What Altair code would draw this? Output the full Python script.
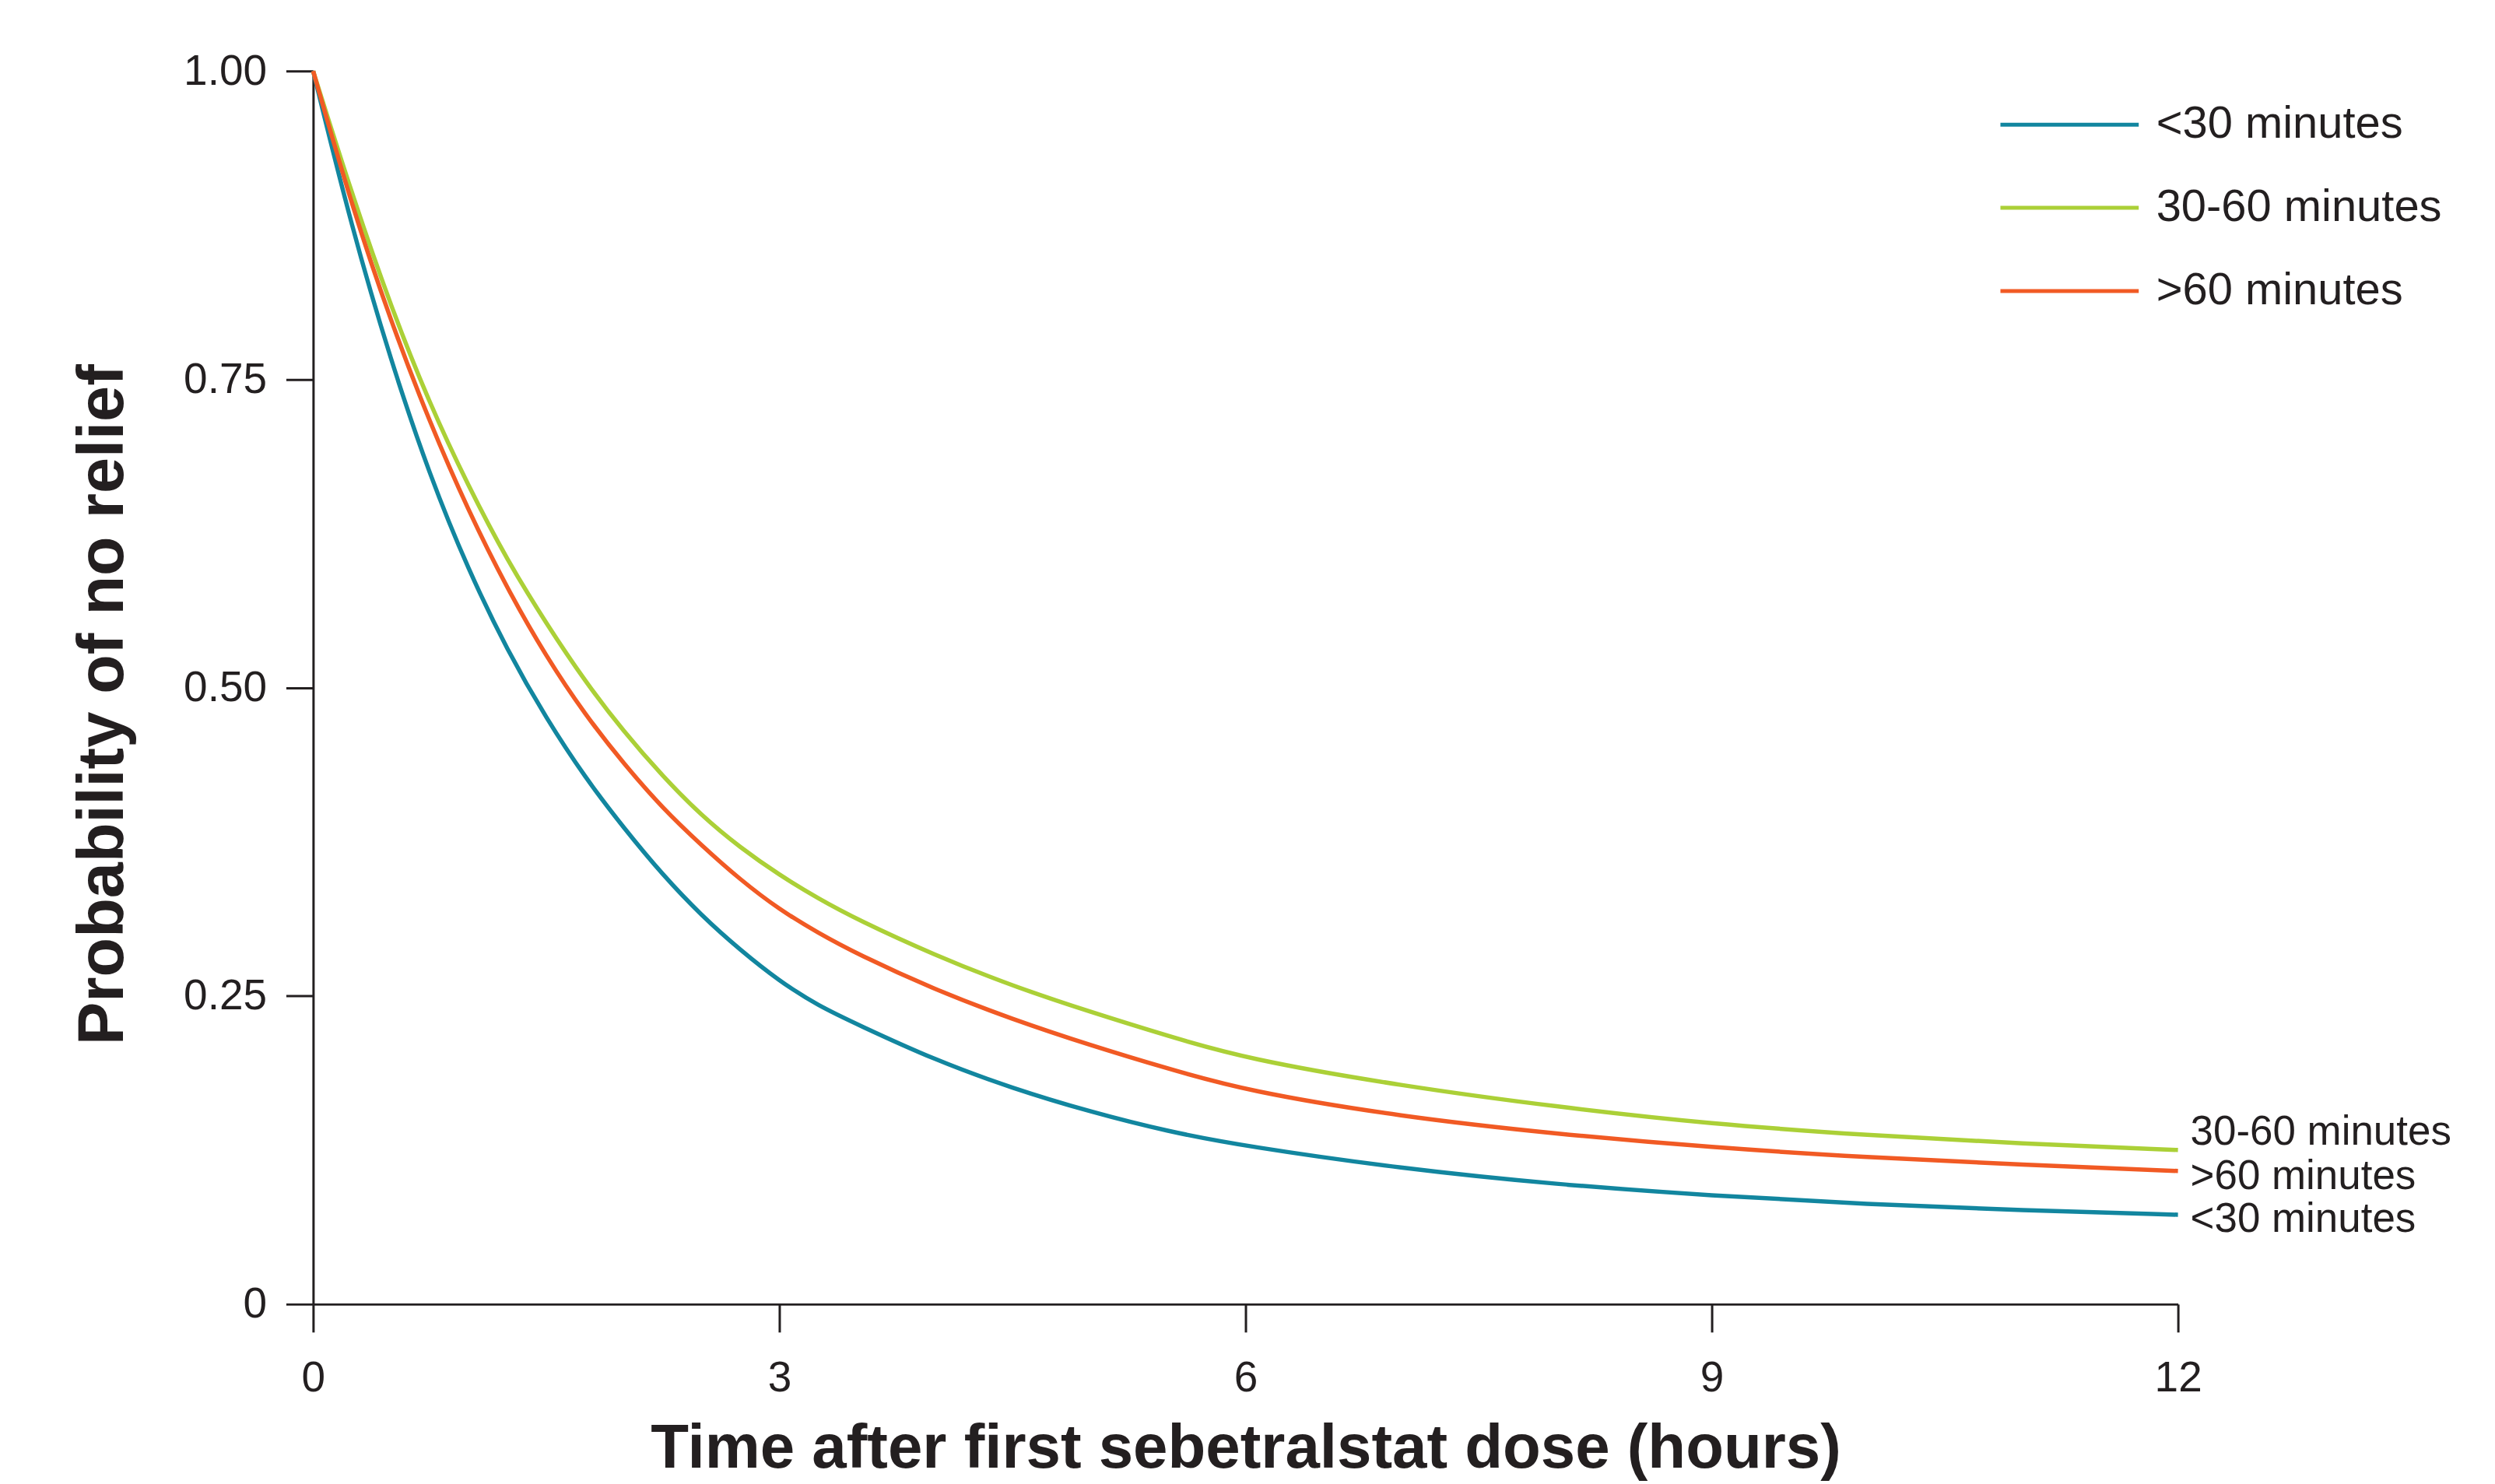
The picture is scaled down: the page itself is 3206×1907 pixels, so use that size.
import altair as alt
import pandas as pd

# ---- data ----
hours = [0, 0.25, 0.5, 0.75, 1, 1.25, 1.5, 1.75, 2, 2.25, 2.5, 2.75, 3, 3.25, 3.5, 4, 4.5, 5, 5.5, 6, 7, 8, 9, 10, 11, 12]
under30 = [1.0, 0.872, 0.765, 0.672, 0.595, 0.530, 0.475, 0.427, 0.386, 0.348, 0.315, 0.287, 0.262, 0.242, 0.227, 0.198, 0.175, 0.156, 0.140, 0.128, 0.110, 0.097, 0.088, 0.081, 0.076, 0.0725]
between30_60 = [1.0, 0.900, 0.809, 0.730, 0.663, 0.603, 0.552, 0.505, 0.464, 0.428, 0.396, 0.370, 0.348, 0.329, 0.312, 0.283, 0.258, 0.237, 0.2175, 0.199, 0.177, 0.160, 0.146, 0.137, 0.130, 0.125]
over60 = [1.0, 0.890, 0.797, 0.715, 0.643, 0.580, 0.525, 0.478, 0.438, 0.402, 0.372, 0.344, 0.320, 0.301, 0.284, 0.255, 0.231, 0.210, 0.191, 0.173, 0.152, 0.138, 0.127, 0.119, 0.113, 0.108]
groups = ["<30 minutes", "30-60 minutes", ">60 minutes"]
colors = ["#12869f", "#abd037", "#f15a24"]
x_ticks = [0, 3, 6, 9, 12]
y_ticks = [0, 0.25, 0.5, 0.75, 1.0]

rows = []
for g, vals in zip(groups, [under30, between30_60, over60]):
    for t, v in zip(hours, vals):
        rows.append({"t": t, "p": v, "group": g})
df = pd.DataFrame(rows)

FONT = "Liberation Sans"
INK = "#231f20"

x_enc = alt.X(
    "t:Q",
    scale=alt.Scale(domain=[0, 12], nice=False),
    axis=alt.Axis(
        values=x_ticks, format="d", title="Time after first sebetralstat dose (hours)",
        tickSize=36, tickWidth=3, domainWidth=3, labelFontSize=55, labelPadding=33,
        titleFontSize=80, titleFontWeight="bold", titleX=1200, titleY=186,
        titleBaseline="middle", titleAlign="center", grid=False, labelFlush=False,
        domainColor=INK, tickColor=INK, labelColor=INK, titleColor=INK,
        labelFont=FONT, titleFont=FONT,
    ),
)
y_enc = alt.Y(
    "p:Q",
    scale=alt.Scale(domain=[0, 1], nice=False),
    axis=alt.Axis(
        values=y_ticks, title="Probability of no relief",
        labelExpr="datum.value == 0 ? '0' : format(datum.value, '.2f')",
        tickSize=35, tickWidth=3, domainWidth=3, labelFontSize=55, labelPadding=25,
        titleFontSize=83, titleFontWeight="bold", titleX=-270, titleY=815,
        titleAngle=270, titleBaseline="middle", titleAlign="center", grid=False,
        labelFlush=False, domainColor=INK, tickColor=INK, labelColor=INK,
        titleColor=INK, labelFont=FONT, titleFont=FONT,
    ),
)
color_enc = alt.Color(
    "group:N",
    scale=alt.Scale(domain=groups, range=colors),
    legend=alt.Legend(
        title=None, orient="none", legendX=2169, legendY=39, direction="vertical",
        symbolType="stroke", symbolSize=31684, symbolStrokeWidth=5,
        labelFontSize=58, labelOffset=20, clipHeight=60, rowPadding=47, padding=0,
        labelFont=FONT, labelColor=INK, labelLimit=600,
    ),
)

lines = alt.Chart(df).mark_line(strokeWidth=5.5, interpolate="basis").encode(
    x=x_enc, y=y_enc, color=color_enc
)

ends = df[df["t"] == 12]
offsets = {"30-60 minutes": -23, ">60 minutes": 7, "<30 minutes": 6}
labels = []
for g in groups:
    labels.append(
        alt.Chart(ends[ends["group"] == g]).mark_text(
            align="left", baseline="middle", dx=16, dy=offsets[g],
            fontSize=53, font=FONT, color=INK,
        ).encode(x="t:Q", y="p:Q", text="group:N")
    )

chart = alt.layer(lines, *labels).properties(
    width=2400, height=1587,
    autosize=alt.AutoSizeParams(type="none"),
    padding={"left": 395, "top": 82, "right": 400, "bottom": 230},
    background="white",
).configure_view(stroke=None, strokeWidth=0)

chart.save("out.html", embed_options={"renderer": "svg", "actions": False})
